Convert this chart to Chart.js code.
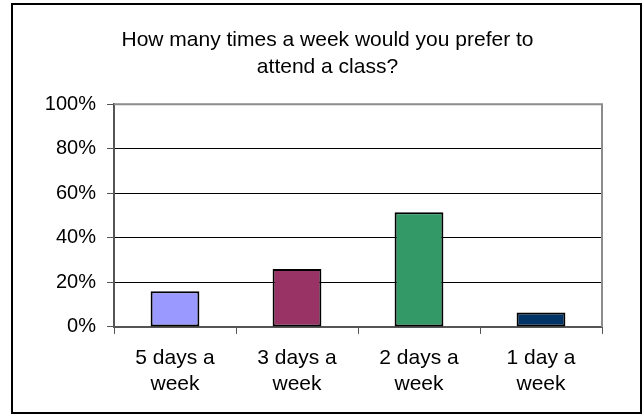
<!DOCTYPE html>
<html>
<head>
<meta charset="utf-8">
<script src="https://cdn.jsdelivr.net/npm/chart.js@4"></script>
<style>
html,body{margin:0;padding:0;background:#fff;}
#wrap{width:643px;height:415px;position:relative;}
</style>
</head>
<body>
<div id="wrap"><canvas id="c" width="643" height="415"></canvas></div>
<script>
const titleLines = ["How many times a week would you prefer to", "attend a class?"];
const categories = [["5 days a", "week"], ["3 days a", "week"], ["2 days a", "week"], ["1 day a", "week"]];
const values = [16, 26, 51.5, 6.5];
const barColors = ["#9999FF", "#993366", "#339966", "#003366"];
const yTicks = [0, 20, 40, 60, 80, 100];

const FONT = "'Liberation Sans', Arial, sans-serif";

const framePlugin = {
  id: 'frame',
  afterDraw(chart) {
    const ctx = chart.ctx;
    const a = chart.chartArea;
    ctx.save();
    ctx.strokeStyle = '#8c8c8c';
    ctx.lineWidth = 2;
    ctx.beginPath();
    ctx.moveTo(a.left, a.top);
    ctx.lineTo(a.right, a.top);
    ctx.lineTo(a.right, a.bottom);
    ctx.stroke();
    ctx.strokeStyle = '#000';
    ctx.lineWidth = 2;
    ctx.strokeRect(12, 4, 629, 409);
    ctx.restore();
  }
};

new Chart(document.getElementById('c'), {
  type: 'bar',
  data: {
    labels: categories,
    datasets: [{
      data: values,
      backgroundColor: barColors,
      borderColor: '#000',
      borderWidth: 2,
      borderSkipped: false,
      barPercentage: 0.4,
      categoryPercentage: 1.0
    }]
  },
  plugins: [framePlugin],
  options: {
    responsive: false,
    animation: false,
    devicePixelRatio: 1,
    layout: { padding: { left: 12, right: 0, top: 0, bottom: 7 } },
    plugins: {
      legend: { display: false },
      tooltip: { enabled: false },
      title: {
        display: true,
        text: titleLines,
        color: '#000',
        font: { family: FONT, size: 21, weight: 'normal', lineHeight: 1.27 },
        padding: { top: 27, bottom: 24 }
      }
    },
    scales: {
      x: {
        grid: {
          display: true,
          drawOnChartArea: false,
          drawTicks: true,
          tickLength: 7,
          color: '#555',
          lineWidth: 1
        },
        border: { display: true, color: '#555', width: 2 },
        ticks: {
          color: '#000',
          padding: 11,
          maxRotation: 0,
          font: { family: FONT, size: 21, lineHeight: 1.24 }
        }
      },
      y: {
        min: 0,
        max: 100,
        afterFit(scale) { scale.width = 102; },
        afterBuildTicks(scale) { scale.ticks = yTicks.map(v => ({ value: v })); },
        grid: {
          color: (c) => (c.tick && (c.tick.value === 0 || c.tick.value === 100)) ? 'rgba(0,0,0,0)' : '#000',
          lineWidth: 1,
          drawTicks: true,
          tickLength: 7,
          tickColor: '#555'
        },
        border: { display: true, color: '#555', width: 2 },
        ticks: {
          color: '#000',
          padding: 11,
          font: { family: FONT, size: 20 },
          callback: (v) => v + '%'
        }
      },
      spacer: {
        type: 'linear',
        position: 'right',
        display: true,
        afterFit(scale) { scale.width = 41; },
        grid: { display: false, drawOnChartArea: false, drawTicks: false },
        border: { display: false },
        ticks: { display: false }
      }
    }
  }
});
</script>
</body>
</html>
